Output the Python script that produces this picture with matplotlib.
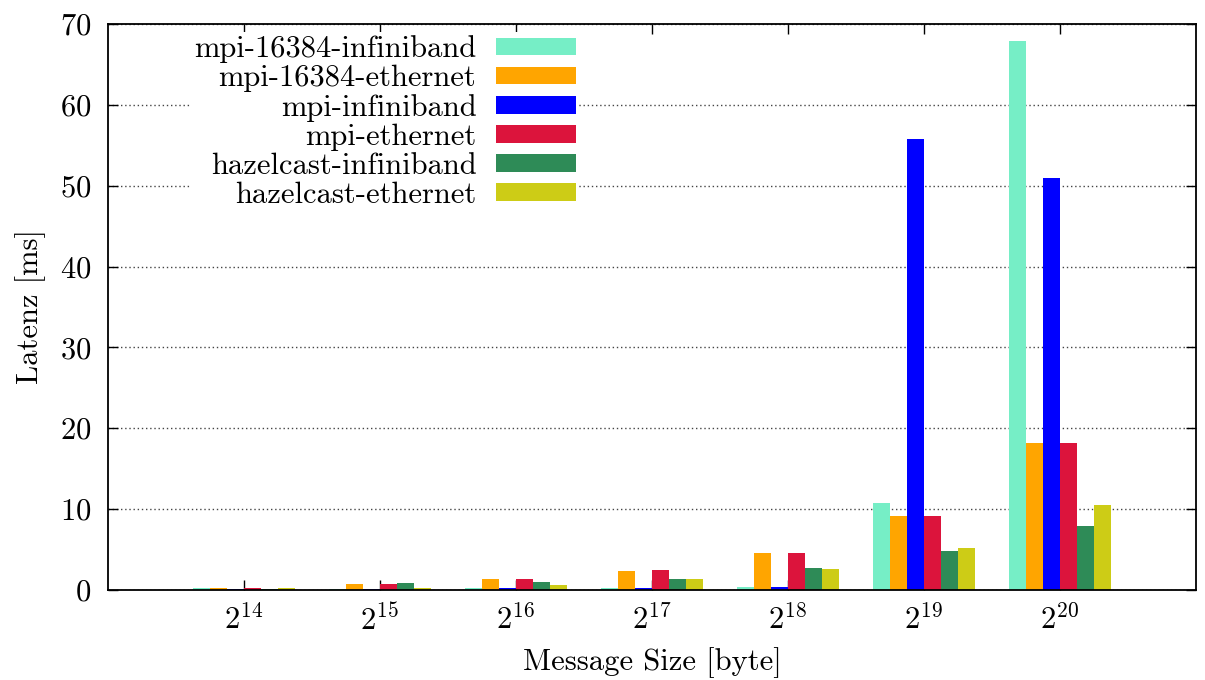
import numpy as np
import matplotlib
matplotlib.use('Agg')
from matplotlib import pyplot as plt

# message sizes (powers of two) and measured latencies in ms
exponents = [14, 15, 16, 17, 18, 19, 20]
series_names = ['mpi-16384-infiniband', 'mpi-16384-ethernet', 'mpi-infiniband',
                'mpi-ethernet', 'hazelcast-infiniband', 'hazelcast-ethernet']
mpi_16384_ib = [0.25, 0.1, 0.2, 0.3, 0.4, 10.8, 67.9]
mpi_16384_eth = [0.25, 0.75, 1.4, 2.4, 4.6, 9.1, 18.2]
mpi_ib = [0.1, 0.1, 0.2, 0.3, 0.4, 55.8, 51.0]
mpi_eth = [0.25, 0.75, 1.4, 2.5, 4.6, 9.1, 18.2]
hazel_ib = [0.1, 0.9, 1.0, 1.4, 2.75, 4.8, 7.85]
hazel_eth = [0.25, 0.3, 0.65, 1.4, 2.65, 5.25, 10.45]
colors = ['#76EEC6', '#FFA500', '#0000FF', '#DC143C', '#2E8B57', '#CDCC16']

series = [mpi_16384_ib, mpi_16384_eth, mpi_ib, mpi_eth, hazel_ib, hazel_eth]

plt.rcParams.update({
    'font.family': 'cmr10',
    'mathtext.fontset': 'cm',
    'axes.formatter.use_mathtext': True,
    'font.size': 22,
})

fig = plt.figure(figsize=(12.05, 6.8), dpi=100)
ax = fig.add_axes([0.0896, 0.1324, 0.9029, 0.8323])

x = np.arange(len(exponents))
width = 0.125
for j, (name, vals, col) in enumerate(zip(series_names, series, colors)):
    ax.bar(x + (j - 2.5) * width, vals, width, color=col, label=name, zorder=2)

ax.set_xlim(-1, 7)
ax.set_ylim(0, 70)
ax.set_xticks(x)
ax.set_xticklabels([f'$2^{{{e}}}$' for e in exponents])
ax.set_yticks(range(0, 71, 10))
ax.yaxis.grid(True, linestyle=(0, (1, 2)), color='#444444', linewidth=1.0, zorder=0)
ax.tick_params(direction='in', length=7, width=1.0, top=True, right=True,
               labelsize=22, pad=12)
ax.tick_params(axis='x', pad=10)
for sp in ax.spines.values():
    sp.set_linewidth(1.3)

ax.set_xlabel('Message Size [byte]', fontsize=22, labelpad=8)
ax.set_ylabel('Latenz [ms]', fontsize=22, labelpad=10)

# key sits on a white box, labels right-aligned in front of the swatches
leg = ax.legend(loc='upper left', bbox_to_anchor=(0.0624, 1.012), markerfirst=False,
                frameon=True, fancybox=False, edgecolor='none', facecolor='white',
                framealpha=1.0, fontsize=22, handlelength=2.6, handleheight=0.5,
                handletextpad=0.65, labelspacing=0.05, borderpad=0.1)
leg.set_zorder(2.4)

fig.savefig('out.png', dpi=100)
